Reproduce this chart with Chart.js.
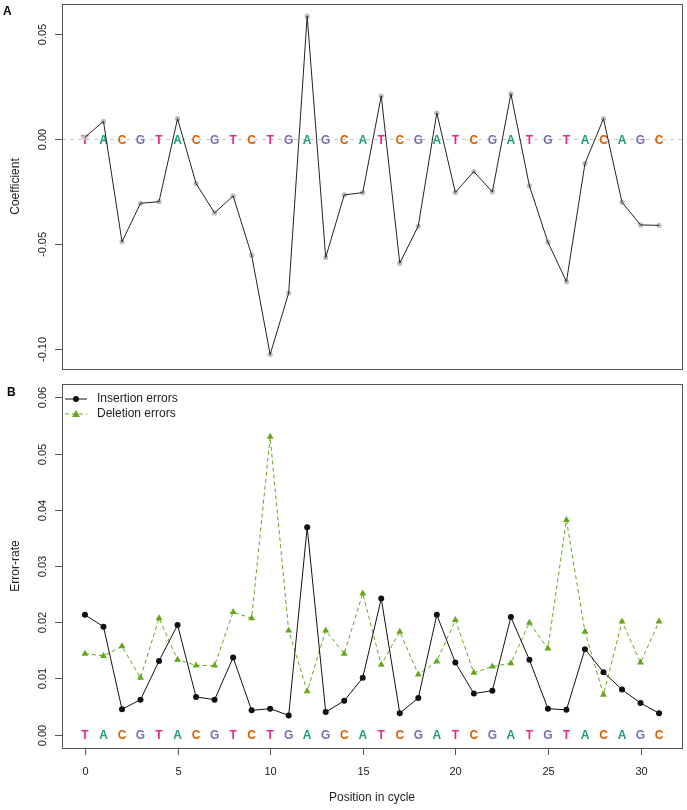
<!DOCTYPE html>
<html>
<head>
<meta charset="utf-8">
<script src="https://cdn.jsdelivr.net/npm/chart.js@4.4.1/dist/chart.umd.min.js"></script>
<style>
  html, body { margin:0; padding:0; background:#fff; }
  #wrap { position:relative; width:687px; height:810px; }
  #wrap canvas { position:absolute; left:0; }
  #cTop { top:0; }
  #cBot { top:380px; }
</style>
</head>
<body>
<div id="wrap">
  <canvas id="cTop" width="687" height="380"></canvas>
  <canvas id="cBot" width="687" height="430"></canvas>
</div>
<script>
/* ===== Datos ===== */
const positions = Array.from({length: 32}, (_, i) => i);
// secuencia (32 posiciones)
const sequence = ['T','A','C','G','T','A','C','G','T','C','T','G','A','G',
                  'C','A','T','C','G','A','T','C','G','A','T','G','T','A','C','A','G','C'];
const coefficient = [0.001, 0.0085, -0.0488, -0.0305, -0.0297, 0.0098, -0.0211, -0.0351,
                     -0.0270, -0.0552, -0.1025, -0.0732, 0.0586, -0.0563, -0.0265, -0.0254,
                     0.0206, -0.0590, -0.0413, 0.0125, -0.0253, -0.0154, -0.0251, 0.0216,
                     -0.0222, -0.0490, -0.0678, -0.0116, 0.0098, -0.0300, -0.0408, -0.0410];
const insertionErr = [0.0213, 0.0192, 0.0045, 0.0062, 0.0131, 0.0195, 0.0067, 0.0062,
                      0.0137, 0.0043, 0.0046, 0.0034, 0.0369, 0.0040, 0.0060, 0.0101,
                      0.0242, 0.0038, 0.0065, 0.0213, 0.0128, 0.0073, 0.0078, 0.0209,
                      0.0133, 0.0046, 0.0044, 0.0152, 0.0111, 0.0080, 0.0056, 0.0038];
const deletionErr = [0.0144, 0.0140, 0.0157, 0.0101, 0.0207, 0.0133, 0.0123, 0.0123,
                     0.0218, 0.0207, 0.0530, 0.0185, 0.0077, 0.0185, 0.0144, 0.0251,
                     0.0124, 0.0183, 0.0107, 0.0130, 0.0204, 0.0110, 0.0121, 0.0127,
                     0.0199, 0.0153, 0.0382, 0.0183, 0.0071, 0.0201, 0.0128, 0.0201];
const coefTicks = [0.05, 0.00, -0.05, -0.10];
const errTicks = [0.00, 0.01, 0.02, 0.03, 0.04, 0.05, 0.06];
const xTicks = [0, 5, 10, 15, 20, 25, 30];

/* ===== Estilo ===== */
const FONT = '"Liberation Sans", Arial, Helvetica, sans-serif';
const baseColor = { A:'#1B9E77', C:'#D95F02', G:'#7570B3', T:'#E7298A' };
const AXIS = '#555';
const GREEN = '#66A61E';
const pts = arr => arr.map((v, i) => ({ x: positions[i], y: v }));

/* ===== Plugin estilo R: caja, ejes, letras ===== */
const rStyle = {
  id: 'rStyle',
  beforeDatasetsDraw(chart, args, o) {
    const { ctx, chartArea: a, scales: { x, y } } = chart;
    ctx.save();
    if (o.zeroLine) {
      ctx.strokeStyle = '#c8c8c8';
      ctx.lineWidth = 1;
      ctx.setLineDash([4, 4]);
      const y0 = Math.round(y.getPixelForValue(0)) + 0.5;
      ctx.beginPath(); ctx.moveTo(a.left, y0); ctx.lineTo(a.right, y0); ctx.stroke();
      ctx.setLineDash([]);
    }
    ctx.font = 'bold 12px ' + FONT;
    ctx.textAlign = 'center';
    ctx.textBaseline = 'middle';
    sequence.forEach((b, i) => {
      ctx.fillStyle = baseColor[b];
      ctx.fillText(b, x.getPixelForValue(positions[i]), y.getPixelForValue(0) + 1);
    });
    ctx.restore();
  },
  afterDraw(chart, args, o) {
    const { ctx, chartArea: a, scales: { x, y } } = chart;
    ctx.save();
    ctx.strokeStyle = AXIS;
    ctx.lineWidth = 1;
    ctx.strokeRect(Math.round(a.left) + 0.5, Math.round(a.top) + 0.5,
                   Math.round(a.right - a.left), Math.round(a.bottom - a.top));
    ctx.fillStyle = '#222';
    ctx.font = '11px ' + FONT;
    // eje y
    o.yTicks.forEach(v => {
      const py = Math.round(y.getPixelForValue(v)) + 0.5;
      ctx.beginPath(); ctx.moveTo(a.left - 7, py); ctx.lineTo(a.left, py); ctx.stroke();
      ctx.save();
      ctx.translate(a.left - 16, py);
      ctx.rotate(-Math.PI / 2);
      ctx.textAlign = 'center';
      ctx.textBaseline = 'alphabetic';
      ctx.fillText(v.toFixed(2), 0, 0);
      ctx.restore();
    });
    // eje x
    if (o.xTicks) {
      o.xTicks.forEach(v => {
        const px = Math.round(x.getPixelForValue(v)) + 0.5;
        ctx.beginPath(); ctx.moveTo(px, a.bottom); ctx.lineTo(px, a.bottom + 7); ctx.stroke();
        ctx.textAlign = 'center';
        ctx.textBaseline = 'alphabetic';
        ctx.fillText(String(v), px, a.bottom + 27);
      });
      ctx.font = '12px ' + FONT;
      ctx.fillText(o.xTitle, (a.left + a.right) / 2, a.bottom + 53);
    }
    // título eje y
    ctx.font = '12px ' + FONT;
    ctx.save();
    ctx.translate(19, (a.top + a.bottom) / 2);
    ctx.rotate(-Math.PI / 2);
    ctx.textAlign = 'center';
    ctx.textBaseline = 'alphabetic';
    ctx.fillText(o.yTitle, 0, 0);
    ctx.restore();
    // letra del panel
    ctx.font = 'bold 12px ' + FONT;
    ctx.fillStyle = '#000';
    ctx.textAlign = 'left';
    ctx.fillText(o.panel, o.panelX, o.panelY);
    // leyenda
    if (o.legend) {
      ctx.font = '12px ' + FONT;
      ctx.textBaseline = 'middle';
      o.legend.forEach((it, k) => {
        const ly = a.top + 15 + k * 15;
        ctx.strokeStyle = it.color;
        ctx.setLineDash(it.dash || []);
        ctx.beginPath(); ctx.moveTo(a.left + 3, ly); ctx.lineTo(a.left + 25, ly); ctx.stroke();
        ctx.setLineDash([]);
        ctx.fillStyle = it.color;
        const cx = a.left + 14;
        ctx.beginPath();
        if (it.shape === 'triangle') {
          ctx.moveTo(cx, ly - 4); ctx.lineTo(cx + 4, ly + 3); ctx.lineTo(cx - 4, ly + 3);
          ctx.closePath();
        } else {
          ctx.arc(cx, ly, 3, 0, Math.PI * 2);
        }
        ctx.fill();
        ctx.fillStyle = '#222';
        ctx.fillText(it.label, a.left + 35, ly);
      });
    }
    ctx.restore();
  }
};

const common = {
  responsive: false,
  animation: false,
  devicePixelRatio: 1,
  plugins: { legend: { display: false }, tooltip: { enabled: false } },
};

/* ===== Panel A ===== */
new Chart(document.getElementById('cTop'), {
  type: 'line',
  data: { datasets: [
    { data: pts(coefficient), borderColor: '#222', borderWidth: 1, pointRadius: 0,
      tension: 0, order: 1 },
    { data: pts(coefficient), showLine: false, pointRadius: 2.6, pointBorderWidth: 0,
      pointBackgroundColor: '#bdbdbd', order: 2 }
  ]},
  options: {
    ...common,
    layout: { padding: { left: 62, right: 5, top: 4, bottom: 11 } },
    scales: {
      x: { type: 'linear', min: -1.24, max: 32.24, display: false },
      y: { type: 'linear', min: -0.1094, max: 0.0644, display: false }
    },
    plugins: { ...common.plugins,
      rStyle: { yTicks: coefTicks, yTitle: 'Coefficient', panel: 'A', panelX: 3, panelY: 15,
                zeroLine: true } }
  },
  plugins: [rStyle]
});

/* ===== Panel B ===== */
new Chart(document.getElementById('cBot'), {
  type: 'line',
  data: { datasets: [
    { label: 'Insertion errors', data: pts(insertionErr), borderColor: '#111', borderWidth: 1,
      pointRadius: 3, pointBorderWidth: 0, pointBackgroundColor: '#111', tension: 0 },
    { label: 'Deletion errors', data: pts(deletionErr), borderColor: GREEN, borderWidth: 1,
      borderDash: [4, 3], pointStyle: 'triangle', pointRadius: 4, pointBorderWidth: 0,
      pointBackgroundColor: GREEN, tension: 0 }
  ]},
  options: {
    ...common,
    layout: { padding: { left: 62, right: 5, top: 2, bottom: 62 } },
    scales: {
      x: { type: 'linear', min: -1.24, max: 32.24, display: false },
      y: { type: 'linear', min: -0.0024, max: 0.0624, display: false }
    },
    plugins: { ...common.plugins,
      rStyle: { yTicks: errTicks, yTitle: 'Error-rate', panel: 'B', panelX: 7, panelY: 16,
                xTicks: xTicks, xTitle: 'Position in cycle',
                legend: [
                  { label: 'Insertion errors', color: '#111' },
                  { label: 'Deletion errors', color: GREEN, dash: [4, 3], shape: 'triangle' }
                ] } }
  },
  plugins: [rStyle]
});
</script>
</body>
</html>
